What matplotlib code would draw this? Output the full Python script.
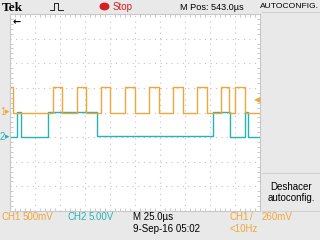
import matplotlib
matplotlib.use("Agg")
import matplotlib.pyplot as plt
from matplotlib.lines import Line2D
from matplotlib.patches import Circle

# screen settings
ch1_scale = 0.5      # V/div
ch2_scale = 5.0      # V/div
ch1_offset = 0.0     # div (ground marker "1")
ch2_offset = -1.0    # div (ground marker "2")
time_div = 25.0      # us/div
trig_level = 0.26    # V on CH1

# CH1 edges (us from left of screen) and level after each edge (V)
ch1_t = [0, 3, 43, 52, 67, 76, 91, 100, 115, 125, 139, 149,
         163, 173, 187, 197, 211, 219, 225, 235, 250]
ch1_v = [0.52, 0, 0.52, 0, 0.52, 0, 0.52, 0, 0.52, 0, 0.52, 0,
         0.52, 0, 0.52, 0, 0.52, 0, 0.52, 0, 0]

# CH2 edges (us) and levels (V)
ch2_t = [0, 7, 11, 38, 87, 203, 220, 235, 238, 250]
ch2_v = [0, 5.2, 0, 5.2, 0.2, 5.2, 0, 5.2, 0, 0]

ORANGE = "#f0a63a"
CYAN = "#25b4b4"
BG = "#e9e9e9"
FS = 6.6
FS_LOW = 7.0

plt.rcParams["font.family"] = ["Liberation Sans", "DejaVu Sans"]

W, H = 320, 240
fig = plt.figure(figsize=(W / 100, H / 100), dpi=100, facecolor=BG)


def px(x, y):
    return x / W, 1 - y / H


# screen area
left, top, right, bottom = 10, 14, 260, 211
ax = fig.add_axes([left / W, 1 - bottom / H, (right - left) / W, (bottom - top) / H])
ax.set_facecolor("white")
ax.set_xlim(0, 10 * time_div)
ax.set_ylim(-4, 4)
ax.set_xticks([i * time_div for i in range(1, 10)])
ax.set_yticks(range(-3, 4))
ax.set_xticks([i * time_div / 5 for i in range(51)], minor=True)
ax.set_yticks([-4 + i * 0.2 for i in range(41)], minor=True)
ax.tick_params(which="both", direction="in", length=0, labelbottom=False, labelleft=False)
ax.tick_params(which="minor", length=2, color="#c0c0c0", width=0.6,
               top=True, right=True)
ax.grid(True, which="major", color="#c2c2c2", linestyle=(0, (1, 4)), linewidth=0.8)
for s in ax.spines.values():
    s.set_color("#c8c8c8")
    s.set_linewidth(0.8)

ch1_y = [v / ch1_scale + ch1_offset for v in ch1_v]
ch2_y = [v / ch2_scale + ch2_offset for v in ch2_v]
ax.step(ch2_t, ch2_y, where="post", color=CYAN, linewidth=1.0)
ax.step(ch1_t, ch1_y, where="post", color=ORANGE, linewidth=1.0)

# trigger level marker on right edge
ax.text(1.0, trig_level / ch1_scale + ch1_offset, "◀", color=ORANGE, fontsize=6,
        ha="right", va="center", transform=ax.get_yaxis_transform(),
        family="DejaVu Sans")
# horizontal trigger position (off screen left)
ax.text(0.01, 0.985, "←", color="black", fontsize=7, fontweight="bold",
        ha="left", va="top", transform=ax.transAxes, family="DejaVu Sans")

# ground markers
fig.text(*px(0, 112), "1", color=ORANGE, fontsize=FS_LOW, va="center", ha="left")
fig.text(*px(5, 112), "▸", color=ORANGE, fontsize=6.5, va="center", ha="left",
         family="DejaVu Sans")
fig.text(*px(0, 137), "2", color=CYAN, fontsize=FS_LOW, va="center", ha="left")
fig.text(*px(5, 137), "▸", color=CYAN, fontsize=6.5, va="center", ha="left",
         family="DejaVu Sans")

# top bar
fig.text(*px(2, 8), "Tek", fontsize=9.5, fontweight="bold", va="center", ha="left",
         family="Liberation Serif")
icon_x = [50, 53, 54, 54, 58, 58, 59, 63]
icon_y = [10, 10, 10, 3, 3, 10, 10, 10]
fig.add_artist(Line2D([x / W for x in icon_x], [1 - y / H for y in icon_y],
                      color="black", linewidth=0.6, transform=fig.transFigure))
fig.add_artist(Circle(px(104.5, 6.5), 4.3 / W, color="#d42020",
                      transform=fig.transFigure))
fig.text(*px(113, 7), "Stop", color="#d42020", fontsize=FS_LOW, va="center", ha="left")
fig.text(*px(180, 7), "M Pos: 543.0µs", fontsize=FS, va="center", ha="left")
fig.text(*px(289, 7), "AUTOCONFIG.", fontsize=6.1, va="center", ha="center")

# side panel separators
for yy in (12, 173, 211):
    fig.add_artist(Line2D([262 / W, 1], [1 - yy / H] * 2, color="#d2d2d2",
                          linewidth=0.8, transform=fig.transFigure))
fig.text(*px(291, 187), "Deshacer", fontsize=FS_LOW, va="center", ha="center")
fig.text(*px(291, 198), "autoconfig.", fontsize=FS_LOW, va="center", ha="center")

# bottom status
fig.text(*px(1, 217), "CH1", color=ORANGE, fontsize=FS_LOW, va="center", ha="left")
fig.text(*px(23, 217), "500mV", color=ORANGE, fontsize=FS_LOW, va="center", ha="left")
fig.text(*px(67, 217), "CH2", color=CYAN, fontsize=FS_LOW, va="center", ha="left")
fig.text(*px(89, 217), "5.00V", color=CYAN, fontsize=FS_LOW, va="center", ha="left")
fig.text(*px(133, 217), "M 25.0µs", fontsize=FS_LOW, va="center", ha="left")
fig.text(*px(133, 229), "9-Sep-16 05:02", fontsize=FS_LOW, va="center", ha="left")
fig.text(*px(230, 217), "CH1", color=ORANGE, fontsize=FS_LOW, va="center", ha="left")
fig.text(*px(250, 217), "/", color=ORANGE, fontsize=FS_LOW, va="center", ha="left")
fig.text(*px(262, 217), "260mV", color=ORANGE, fontsize=FS_LOW, va="center", ha="left")
fig.text(*px(230, 229), "<10Hz", color=ORANGE, fontsize=FS_LOW, va="center", ha="left")

fig.savefig("out.png", dpi=100, facecolor=BG)
